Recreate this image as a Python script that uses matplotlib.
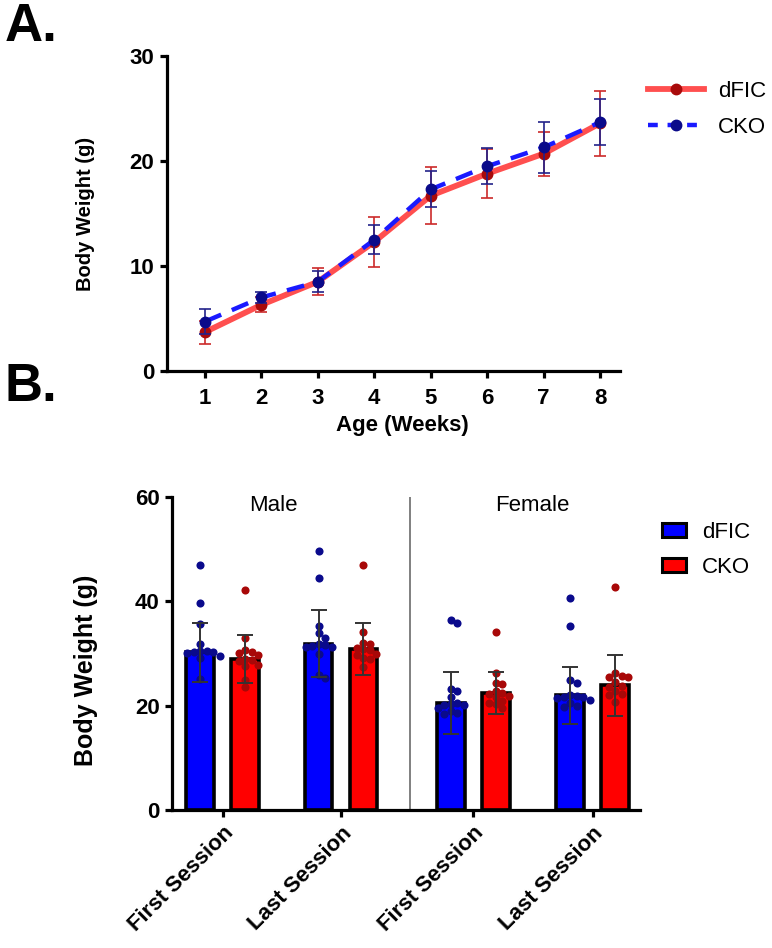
import numpy as np
import matplotlib
matplotlib.use('Agg')
import matplotlib.pyplot as plt
from matplotlib.patches import Patch
from matplotlib.lines import Line2D

plt.rcParams['font.family'] = ['Liberation Sans', 'DejaVu Sans']

# ---- panel A: body weight by age ----
weeks = [1, 2, 3, 4, 5, 6, 7, 8]
dfic_mean = [3.7, 6.3, 8.5, 12.3, 16.7, 18.8, 20.7, 23.6]
dfic_sd = [1.1, 0.7, 1.3, 2.4, 2.7, 2.3, 2.1, 3.1]
cko_mean = [4.7, 7.0, 8.5, 12.5, 17.3, 19.5, 21.3, 23.7]
cko_sd = [1.2, 0.5, 1.0, 1.4, 1.7, 1.7, 2.4, 2.2]

# ---- panel B: body weight by session ----
sessions = ['First Session', 'Last Session', 'First Session', 'Last Session']
sexes = ['Male', 'Female']
bar_dfic = [30.2, 31.9, 20.5, 22.0]
bar_cko = [29.0, 30.8, 22.4, 23.9]
err_dfic = [5.6, 6.5, 6.0, 5.5]
err_cko = [4.6, 5.0, 4.0, 5.8]
pts_dfic = [
    [47.0, 39.6, 35.7, 31.8, 30.4, 30.2, 30.5, 30.1, 30.3, 29.5, 29.2, 25.2],
    [49.6, 44.5, 35.2, 34.0, 32.9, 31.8, 31.6, 31.5, 31.3, 31.2, 29.9, 25.8, 25.3],
    [36.4, 35.8, 23.1, 22.9, 21.7, 20.6, 20.4, 20.2, 20.1, 19.5, 18.9, 18.6, 18.4],
    [40.7, 35.3, 24.9, 24.4, 22.0, 21.8, 21.7, 21.6, 21.5, 21.0, 20.6, 19.9, 19.7],
]
pts_cko = [
    [42.2, 33.0, 30.6, 30.3, 30.1, 29.8, 28.9, 28.7, 28.5, 27.8, 27.6, 24.9, 23.5],
    [46.9, 34.2, 32.0, 31.9, 31.0, 30.8, 30.6, 29.9, 29.8, 29.2, 28.9, 27.4],
    [34.2, 26.2, 24.4, 24.2, 22.9, 22.4, 22.2, 21.8, 21.6, 20.8, 20.6, 20.4, 19.5],
    [42.7, 26.3, 25.6, 25.4, 25.5, 24.6, 23.7, 23.5, 22.9, 22.3, 22.0, 20.7],
]

group_x = np.array([0, 1, 2.12, 3.13])
divider_x = 1.58
off = 0.19
bw = 0.235


def swarm(vals, center, xpx, ypx, dot=6.5):
    # simple beeswarm: place dots left/right until they don't overlap
    placed = []
    xs = {}
    order = np.argsort(vals)[::-1]
    for i in order:
        v = vals[i]
        k = 0
        while True:
            step = (k + 1) // 2 * (1 if k % 2 else -1)
            cx = step * dot
            ok = all((cx - px) ** 2 + ((v - pv) * ypx) ** 2 >= (dot * 0.95) ** 2
                     for px, pv in placed)
            if ok:
                placed.append((cx, v))
                xs[i] = center + cx / xpx
                break
            k += 1
    return [xs[i] for i in range(len(vals))]


fig = plt.figure(figsize=(7.72, 9.48), dpi=100)

# ---------------- panel A ----------------
axA = fig.add_axes([167 / 772, 1 - 371 / 948, 453 / 772, 315 / 948])
axA.errorbar(weeks, dfic_mean, yerr=dfic_sd, color='#ff4f4f', lw=4.2,
             marker='o', ms=7.5, mfc='#a80a0a', mec='#a80a0a',
             ecolor='#cc2a2a', elinewidth=1.2, capsize=4, capthick=1.2, zorder=3)
axA.errorbar(weeks, cko_mean, yerr=cko_sd, color='#1a1aff', lw=3.2, ls=(0, (4, 2.6)),
             marker='o', ms=7.5, mfc='#0a0a8a', mec='#0a0a8a',
             ecolor='#22228a', elinewidth=1.2, capsize=4, capthick=1.2, zorder=4)
axA.set_xlim(0.33, 8.35)
axA.set_ylim(0, 30)
axA.set_xticks(weeks)
axA.set_yticks([0, 10, 20, 30])
axA.set_xlabel('Age (Weeks)', fontsize=16, fontweight='bold')
axA.set_ylabel('Body Weight (g)', fontsize=14.5, fontweight='bold')
axA.xaxis.set_label_coords(0.52, -0.14)
axA.yaxis.set_label_coords(-0.158, 0.5)

legA = [Line2D([], [], color='#ff4f4f', lw=4.2, marker='o', ms=7.5,
               mfc='#a80a0a', mec='#a80a0a'),
        Line2D([], [], color='#1a1aff', lw=3.2, ls=(0, (2.2, 2.2)), marker='o', ms=7.5,
               mfc='#0a0a8a', mec='#0a0a8a')]
fig.legend(legA, ['dFIC', 'CKO'], loc='upper left', bbox_to_anchor=(648 / 772, 1 - 81 / 948),
           frameon=False, fontsize=16, handlelength=2.5, labelspacing=0.68,
           handletextpad=0.65, borderpad=0, borderaxespad=0)

# ---------------- panel B ----------------
axB = fig.add_axes([172 / 772, 1 - 810 / 948, 468 / 772, 313 / 948])
xpx = 118.0
ypx = 5.22
axB.bar(group_x - off, bar_dfic, width=bw, color='#0000ff', edgecolor='black', lw=2.6, zorder=2)
axB.bar(group_x + off, bar_cko, width=bw, color='#ff0000', edgecolor='black', lw=2.6, zorder=2)
for i in range(4):
    xd = swarm(pts_dfic[i], group_x[i] - off, xpx, ypx)
    axB.scatter(xd, pts_dfic[i], s=34, color='#0a0a8c', lw=0, zorder=3)
    xc = swarm(pts_cko[i], group_x[i] + off, xpx, ypx)
    axB.scatter(xc, pts_cko[i], s=34, color='#a80808', lw=0, zorder=3)
axB.errorbar(group_x - off, bar_dfic, yerr=err_dfic, fmt='none', ecolor='#333333',
             elinewidth=1.4, capsize=6, capthick=1.4, zorder=4)
axB.errorbar(group_x + off, bar_cko, yerr=err_cko, fmt='none', ecolor='#333333',
             elinewidth=1.4, capsize=6, capthick=1.4, zorder=4)
axB.axvline(divider_x, color='#808080', lw=1.4, zorder=1)
axB.text(0.43, 58.3, sexes[0], fontsize=16, ha='center', va='center')
axB.text(2.62, 58.3, sexes[1], fontsize=16, ha='center', va='center')
axB.set_xlim(-0.43, 3.53)
axB.set_ylim(0, 60)
axB.set_yticks([0, 20, 40, 60])
axB.set_xticks(group_x)
axB.set_xticklabels(sessions, rotation=45, ha='right', va='top', rotation_mode='anchor',
                    fontsize=16, fontweight='bold')
axB.set_ylabel('Body Weight (g)', fontsize=18, fontweight='bold')
axB.yaxis.set_label_coords(-0.158, 0.447)

legB = [Patch(facecolor='#0000ff', edgecolor='black', lw=2.2),
        Patch(facecolor='#ff0000', edgecolor='black', lw=2.2)]
fig.legend(legB, ['dFIC', 'CKO'], loc='upper left', bbox_to_anchor=(662 / 772, 1 - 522 / 948),
           frameon=False, fontsize=16, handlelength=1.1, handleheight=0.55,
           labelspacing=0.62, handletextpad=0.7, borderpad=0, borderaxespad=0)

for ax in (axA, axB):
    for s in ('top', 'right'):
        ax.spines[s].set_visible(False)
    for s in ('left', 'bottom'):
        ax.spines[s].set_linewidth(2.3)
    ax.tick_params(width=2.3, length=5, labelsize=16, direction='out', pad=4)
    for lab in ax.get_yticklabels() + ax.get_xticklabels():
        lab.set_fontweight('bold')
axA.tick_params(axis='x', pad=7)

fig.text(5 / 772, 1 - 2 / 948, 'A.', fontsize=38, fontweight='bold', ha='left', va='top')
fig.text(5 / 772, 1 - 362 / 948, 'B.', fontsize=38, fontweight='bold', ha='left', va='top')

fig.savefig('out.png', dpi=100)
